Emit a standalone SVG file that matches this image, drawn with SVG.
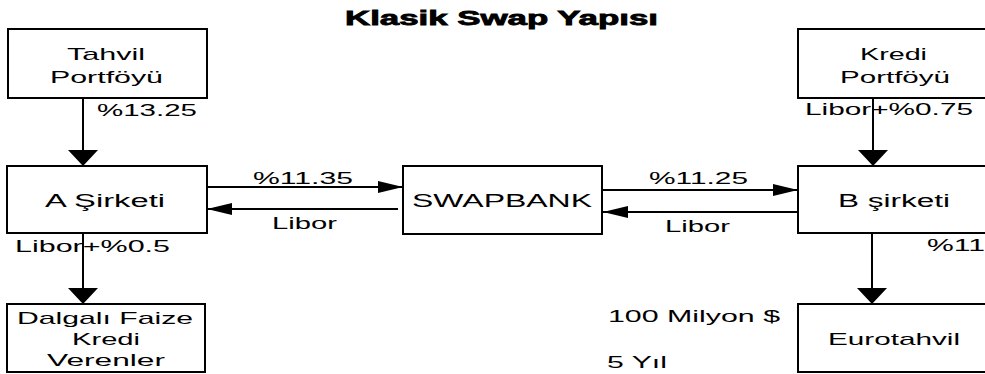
<svg xmlns="http://www.w3.org/2000/svg" width="985" height="374" viewBox="0 0 985 374">
<style>
.box{fill:#fff;stroke:#000;stroke-width:2}
.ln{stroke:#000;stroke-width:2;fill:none}
text{font-family:"Liberation Sans",Arial,sans-serif;font-size:17px;fill:#000}
.m{font-size:18px}
.t{font-size:20px;font-weight:bold;stroke:#000;stroke-width:0.8}
</style>
<defs>
<marker id="big" markerUnits="userSpaceOnUse" viewBox="0 0 16 30" markerWidth="16" markerHeight="30" refX="16" refY="15" orient="auto"><path d="M0,0 L16,15 L0,30 z" fill="#000"/></marker>
<marker id="sm" markerUnits="userSpaceOnUse" viewBox="0 0 25 12" markerWidth="25" markerHeight="12" refX="25" refY="6" orient="auto"><path d="M0,0 L25,6 L0,12 z" fill="#000"/></marker>
</defs>
<rect width="985" height="374" fill="#fff"/>
<text class="t" x="345" y="25" textLength="313" lengthAdjust="spacingAndGlyphs">Klasik Swap Yapısı</text>
<g id="connectors">
<line class="ln" x1="83" y1="98" x2="83" y2="166" marker-end="url(#big)"/>
<line class="ln" x1="83" y1="233" x2="83" y2="304" marker-end="url(#big)"/>
<line class="ln" x1="873" y1="98" x2="873" y2="166" marker-end="url(#big)"/>
<line class="ln" x1="872" y1="233" x2="872" y2="304" marker-end="url(#big)"/>
<line class="ln" x1="207" y1="187" x2="403" y2="187" marker-end="url(#sm)"/>
<line class="ln" x1="398" y1="209" x2="207" y2="209" marker-end="url(#sm)"/>
<line class="ln" x1="602" y1="190" x2="798" y2="190" marker-end="url(#sm)"/>
<line class="ln" x1="798" y1="212" x2="603" y2="212" marker-end="url(#sm)"/>
<text x="97" y="116" textLength="100" lengthAdjust="spacingAndGlyphs">%13.25</text>
<text x="15" y="252" textLength="155" lengthAdjust="spacingAndGlyphs">Libor+%0.5</text>
<text x="805" y="115" textLength="168" lengthAdjust="spacingAndGlyphs">Libor+%0.75</text>
<text x="927" y="251" textLength="58" lengthAdjust="spacingAndGlyphs">%11</text>
<text x="253" y="184" textLength="100" lengthAdjust="spacingAndGlyphs">%11.35</text>
<text x="272" y="229" textLength="65" lengthAdjust="spacingAndGlyphs">Libor</text>
<text x="649" y="184" textLength="99" lengthAdjust="spacingAndGlyphs">%11.25</text>
<text x="665" y="232" textLength="65" lengthAdjust="spacingAndGlyphs">Libor</text>
</g>
<g id="tahvil">
<rect class="box" x="8" y="29" width="199" height="69"/>
<text x="67" y="60" textLength="78" lengthAdjust="spacingAndGlyphs">Tahvil</text>
<text x="50" y="83" textLength="113" lengthAdjust="spacingAndGlyphs">Portföyü</text>
</g>
<g id="kredi">
<rect class="box" x="798" y="29" width="200" height="69"/>
<text x="860" y="60" textLength="67" lengthAdjust="spacingAndGlyphs">Kredi</text>
<text x="840" y="83" textLength="110" lengthAdjust="spacingAndGlyphs">Portföyü</text>
</g>
<g id="a-sirketi">
<rect class="box" x="7" y="166" width="200" height="67"/>
<text class="m" x="45" y="207" textLength="120" lengthAdjust="spacingAndGlyphs">A Şirketi</text>
</g>
<g id="swapbank">
<rect class="box" x="403" y="166" width="199" height="68"/>
<text class="m" x="412" y="207" textLength="180" lengthAdjust="spacingAndGlyphs">SWAPBANK</text>
</g>
<g id="b-sirketi">
<rect class="box" x="798" y="166" width="200" height="67"/>
<text class="m" x="838" y="207" textLength="112" lengthAdjust="spacingAndGlyphs">B şirketi</text>
</g>
<g id="dalgali">
<rect class="box" x="7" y="304" width="198" height="68"/>
<text x="17" y="324" textLength="176" lengthAdjust="spacingAndGlyphs">Dalgalı Faize</text>
<text x="72" y="345" textLength="68" lengthAdjust="spacingAndGlyphs">Kredi</text>
<text x="47" y="366" textLength="118" lengthAdjust="spacingAndGlyphs">Verenler</text>
</g>
<g id="eurotahvil">
<rect class="box" x="798" y="304" width="200" height="68"/>
<text x="828" y="345" textLength="132" lengthAdjust="spacingAndGlyphs">Eurotahvil</text>
</g>
<g id="notes">
<text x="608" y="322" textLength="172" lengthAdjust="spacingAndGlyphs">100 Milyon $</text>
<text x="607" y="368" textLength="60" lengthAdjust="spacingAndGlyphs">5 Yıl</text>
</g>
</svg>
